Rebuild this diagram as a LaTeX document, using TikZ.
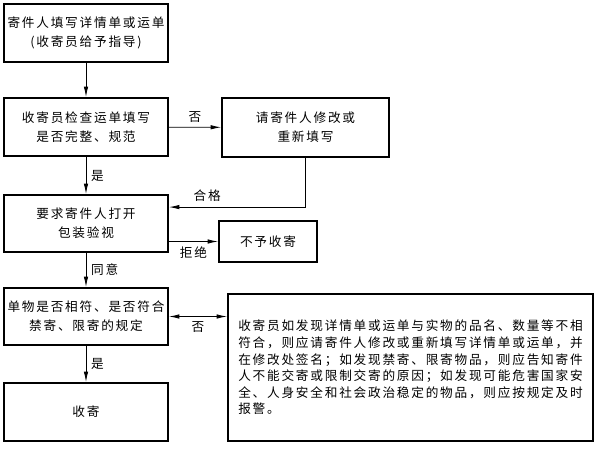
\documentclass[tikz,border=0pt]{standalone}
\usepackage{fontspec}
\setmainfont{Noto Sans CJK SC}[LetterSpace=14]
\usepackage{tikz}
\usetikzlibrary{arrows.meta}
\usetikzlibrary{calc}

\begin{document}
\begin{tikzpicture}[
  every node/.style={align=center, font=\fontsize{9pt}{13.5pt}\selectfont},
  box/.style={draw, line width=1.3pt, minimum width=4.1cm, minimum height=1.45cm, inner sep=2pt},
  arr/.style={line width=0.6pt, -{Latex[length=2.6mm,width=1.1mm]}}
]
\useasboundingbox (0,0) rectangle (14.975,-11.325);
\node[box] (fill) at (2.15,-0.825) {寄件人填写详情单或运单\\(收寄员给予指导)};
\node[box] (check) at (2.15,-3.175) {收寄员检查运单填写\\是否完整、规范};
\node[box, minimum width=4.175cm, minimum height=1.475cm] (redo) at (7.6375,-3.1875) {请寄件人修改或\\重新填写};
\node[box, minimum height=1.425cm] (open) at (2.15,-5.5875) {要求寄件人打开\\包装验视};
\node[box, minimum width=2.45cm, minimum height=1.025cm] (refuse) at (6.7,-6.0375) {不予收寄};
\node[box, minimum height=1.425cm] (match) at (2.15,-7.9125) {单物是否相符、是否符合\\禁寄、限寄的规定};
\node[box, minimum width=9.125cm, minimum height=3.675cm, align=left,
  font=\fontsize{9pt}{11.8pt}\selectfont] (note) at (10.2625,-9.1875)
  {收寄员如发现详情单或运单与实物的品名、数量等不相\\
   符合，则应请寄件人修改或重新填写详情单或运单，并\\
   在修改处签名；如发现禁寄、限寄物品，则应告知寄件\\
   人不能交寄或限制交寄的原因；如发现可能危害国家安\\
   全、人身安全和社会政治稳定的物品，则应按规定及时\\
   报警。};
\node[box] (accept) at (2.15,-10.3) {收寄};

\draw[arr] (fill) -- (check);
\draw[arr] (check) -- node[above] {否} (redo);
\draw[arr] (check) -- node[right] {是} (open);
\draw[arr] (redo.south) |- node[pos=0.86, above] {合格} ([yshift=0.41cm]open.east);
\draw[arr] (open.east |- refuse.west) -- node[below] {拒绝} (refuse.west);
\draw[arr] (open) -- node[right] {同意} (match);
\draw[arr, {Latex[length=2.6mm,width=1.1mm]}-{Latex[length=2.6mm,width=1.1mm]}] (match.east) -- node[below] {否} (note.west |- match.east);
\draw[arr] (match) -- node[right] {是} (accept);
\end{tikzpicture}
\end{document}
